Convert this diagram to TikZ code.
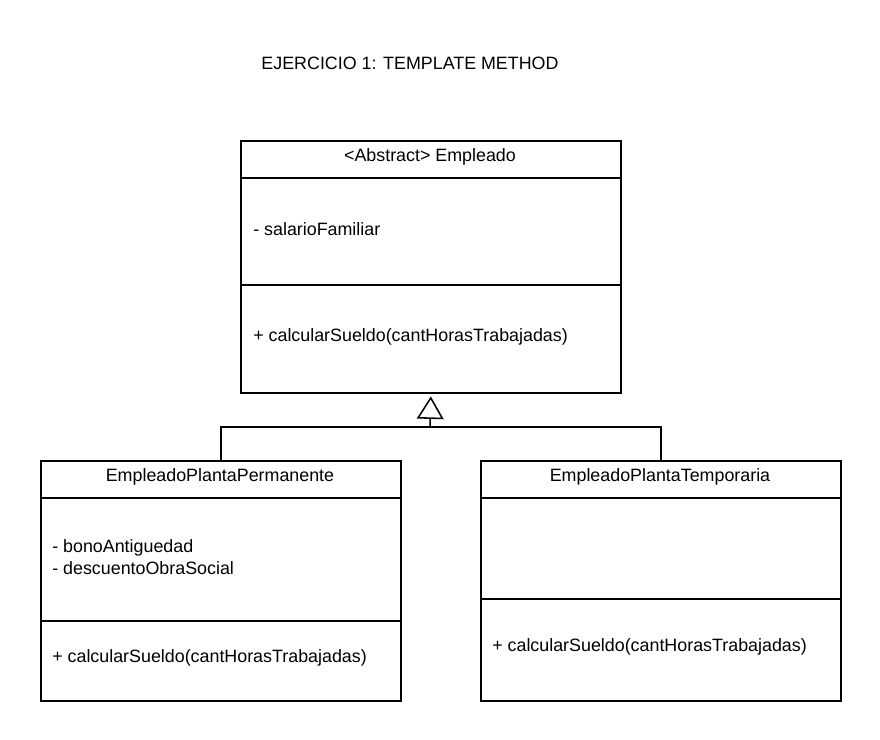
\documentclass[tikz,border=0pt]{standalone}
\usepackage{fontspec}
\setmainfont{Liberation Sans}
\usetikzlibrary{arrows.meta,positioning}

\begin{document}
\begin{tikzpicture}[x=0.025cm,y=-0.025cm,
    every node/.style={font=\fontsize{12.7}{15.6}\selectfont},
    umlbox/.style={draw,line width=1.1pt,inner sep=0pt,anchor=north west},
    member/.style={anchor=west,inner sep=0pt,align=left},
    inherit/.style={line width=1.1pt,-{Triangle[open,length=16pt,width=19pt]}}]
                      \useasboundingbox (0,0) rectangle (880,740);
                      \node (title) at (410,63) {EJERCICIO 1: TEMPLATE METHOD};
                      % clase abstracta
                      \node[umlbox,minimum width=9.5cm,minimum height=6.3cm](empleado)at(240,140){};
                      \draw[line width=1.1pt] (240,178) -- (620,178);
                      \draw[line width=1.1pt] (240,285) -- (620,285);
                      \node (empleadoname) at (430,157) {<Abstract> Empleado};
                      \node[member] (empleadoattr) at (253,229) {- salarioFamiliar};
                      \node[member] (empleadoop) at (253,337) {+ calcularSueldo(cantHorasTrabajadas)};
                      % subclases
                      \node[umlbox,minimum width=9cm,minimum height=6cm](perm)at(40,460){};
                      \draw[line width=1.1pt] (40,498) -- (400,498);
                      \draw[line width=1.1pt] (40,621) -- (400,621);
                      \node (permname) at (220,477) {EmpleadoPlantaPermanente};
                      \node[member] (permattr) at (52,557) {- bonoAntiguedad\\- descuentoObraSocial};
                      \node[member] (permop) at (52,658) {+ calcularSueldo(cantHorasTrabajadas)};
                      \node[umlbox,minimum width=9cm,minimum height=6cm](temp)at(480,460){};
                      \draw[line width=1.1pt] (480,498) -- (840,498);
                      \draw[line width=1.1pt] (480,599) -- (840,599);
                      \node (tempname) at (660,477) {EmpleadoPlantaTemporaria};
                      \node[member] (tempop) at (492,647) {+ calcularSueldo(cantHorasTrabajadas)};
                      % herencia
                      \coordinate (join) at (430,427);
                      \draw[line width=1.1pt] (perm.north) |- (join) -| (temp.north);
                      \draw[inherit] (join) -- ([yshift=-2pt]empleado.south);
\end{tikzpicture}
\end{document}
